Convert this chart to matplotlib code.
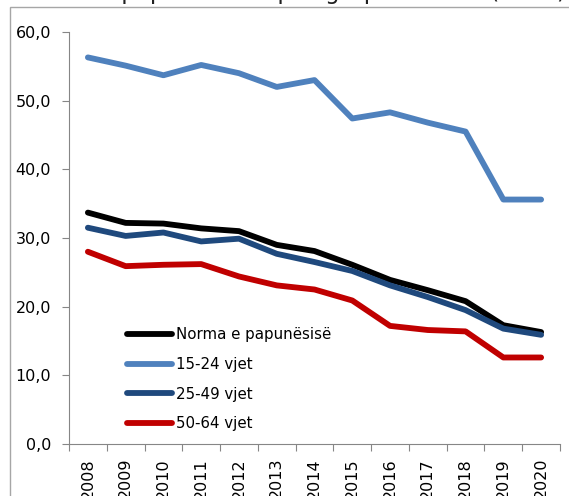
import matplotlib
matplotlib.use('Agg')
import matplotlib.pyplot as plt
from matplotlib.patches import Rectangle

years = ['2008', '2009', '2010', '2011', '2012', '2013', '2014',
         '2015', '2016', '2017', '2018', '2019', '2020']
norma = [33.7, 32.2, 32.1, 31.4, 31.0, 29.0, 28.1, 26.1, 23.9, 22.4, 20.8, 17.3, 16.3]
vjet_15_24 = [56.3, 55.1, 53.7, 55.2, 54.0, 52.0, 53.0, 47.4, 48.3, 46.8, 45.5, 35.6, 35.6]
vjet_25_49 = [31.5, 30.3, 30.8, 29.5, 29.9, 27.7, 26.5, 25.2, 23.1, 21.4, 19.5, 16.8, 15.9]
vjet_50_64 = [28.0, 25.9, 26.1, 26.2, 24.4, 23.1, 22.5, 20.9, 17.2, 16.6, 16.4, 12.6, 12.6]
yticks = [0, 10, 20, 30, 40, 50, 60]

plt.rcParams['font.family'] = ['DejaVu Sans']
fig = plt.figure(figsize=(5.69, 4.96), dpi=100)
ax = fig.add_axes([69/569, 1-444/496, (560-69)/569, (444-32)/496])

# chart border, partly outside the image
fig.patches.append(Rectangle((10/569, -0.1), 1.2, 1-7/496+0.1, transform=fig.transFigure,
                             fill=False, edgecolor='#a6a6a6', linewidth=1))
fig.text(10/569, 1+1/496, 'Shkalla e papunësisë sipas grupmoshave (në %)',
         ha='left', va='baseline', fontsize=16.5, color='#202020')

x = list(range(len(years)))
lw = 4.2
ax.plot(x, norma, color='black', lw=lw, solid_capstyle='round', label='Norma e papunësisë')
ax.plot(x, vjet_15_24, color='#4f81bd', lw=lw, solid_capstyle='round', label='15-24 vjet')
ax.plot(x, vjet_25_49, color='#1f497d', lw=lw, solid_capstyle='round', label='25-49 vjet')
ax.plot(x, vjet_50_64, color='#c00000', lw=lw, solid_capstyle='round', label='50-64 vjet')

ax.set_xlim(-0.5, len(years)-0.5)
ax.set_ylim(0, 60)
ax.set_yticks(yticks)
ax.set_yticklabels(['%d,0' % v for v in yticks], fontsize=11.5)
ax.set_xticks([i-0.5 for i in range(len(years)+1)])
ax.set_xticklabels([])
ax.set_xticks(x, minor=True)
ax.set_xticklabels(years, minor=True, rotation=90, fontsize=11.5, va='top')
ax.tick_params(axis='x', which='minor', length=0, pad=10)
ax.tick_params(axis='x', which='major', length=5, color='#868686', direction='out')
ax.tick_params(axis='y', length=5, color='#868686', pad=8)

for s in ['top', 'right']:
    ax.spines[s].set_visible(False)
for s in ['left', 'bottom']:
    ax.spines[s].set_color('#868686')

leg = ax.legend(loc='upper left', bbox_to_anchor=(0.105, 0.298), frameon=False,
                fontsize=10.8, handlelength=3.0, handletextpad=0.3, labelspacing=0.98,
                borderaxespad=0)

fig.savefig('out.png', dpi=100)
